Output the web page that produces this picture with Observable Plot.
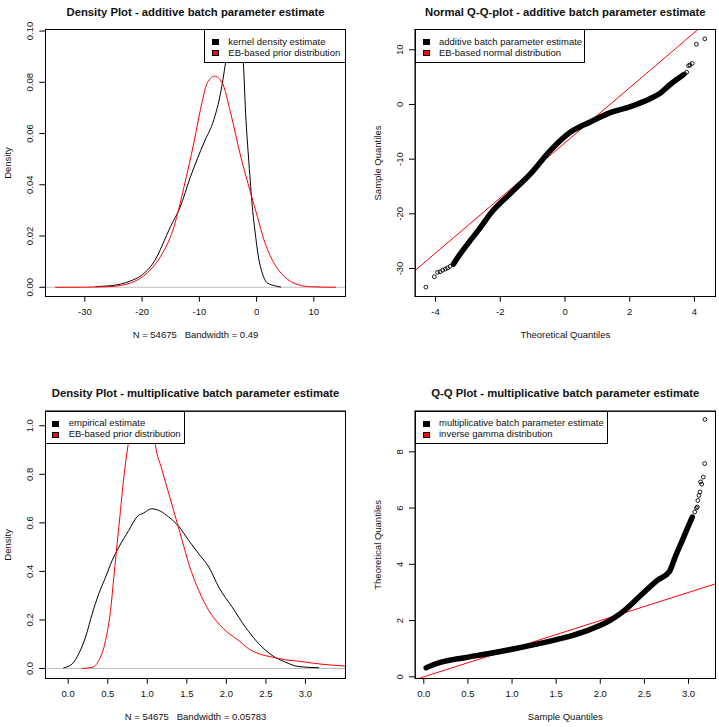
<!DOCTYPE html>
<html><head><meta charset="utf-8">
<script src="https://cdn.jsdelivr.net/npm/d3@7"></script>
<script src="https://cdn.jsdelivr.net/npm/@observablehq/plot@0.6"></script>
<style>
html,body{margin:0;padding:0;background:#fff;}
#wrap{position:relative;width:719px;height:727px;overflow:hidden;font-family:"Liberation Sans",Arial,sans-serif;background:#fff;}
.panel{position:absolute;}
.legend{position:absolute;box-sizing:border-box;border:1px solid #000;background:#fff;font-size:9.5px;color:#111;}
.legend .sw{position:absolute;width:7px;height:6px;border:1px solid #000;box-sizing:border-box;}
.legend .lab{position:absolute;white-space:nowrap;line-height:10px;}
</style></head>
<body><div id="wrap"></div>
<script>
// ---------- Panel 1: density of additive batch parameter ----------
const addKdeX = [-28.1, -25.5, -22.0, -20.2, -17.9, -15.0, -13.4, -11.5, -9.2, -7.45, -6.28, -5.41, -4.6, -3.8, -3.0, -2.32, -1.92, -1.34, -0.75, -0.17, 0.41, 0.99, 1.86, 3.6, 4.2];
const addKdeY = [0.0003, 0.0006, 0.0025, 0.0045, 0.0100, 0.0238, 0.0310, 0.0434, 0.0564, 0.0655, 0.0759, 0.0877, 0.100, 0.106, 0.100, 0.0877, 0.0681, 0.0486, 0.0316, 0.0199, 0.0108, 0.0056, 0.0017, 0.0004, 0.0001];
const addPriorX = [-35.1, -30.0, -25.5, -22.0, -19.1, -16.75, -14.4, -12.7, -10.9, -9.8, -8.6, -7.33, -6.0, -4.54, -2.79, -1.05, 0.12, 1.28, 3.02, 4.8, 7.1, 9.4, 13.8];
const addPriorY = [0, 0.00005, 0.0003, 0.0017, 0.0056, 0.0121, 0.0238, 0.0390, 0.0570, 0.0694, 0.0798, 0.0824, 0.0798, 0.0681, 0.0512, 0.0369, 0.0277, 0.0186, 0.0095, 0.0043, 0.0011, 0.0002, 0];

// ---------- Panel 2: normal Q-Q of additive batch parameter ----------
const addQqTheo   = [-3.45, -3.27, -2.93, -2.60, -2.31, -1.69, -1.07, -0.45, 0.16, 0.78, 1.40, 2.02, 2.64, 2.95, 3.26, 3.46, 3.65];
const addQqSample = [-29.2, -27.6, -24.9, -22.4, -20.0, -16.3, -12.7, -8.4, -5.1, -3.2, -1.5, -0.4, 1.1, 2.1, 3.7, 4.6, 5.4];
const addQqTailTheo   = [-4.30, -4.04, -3.94, -3.86, -3.78, -3.70, -3.63, -3.55, 3.70, 3.76, 3.82, 3.86, 3.93, 4.06, 4.32];
const addQqTailSample = [-33.4, -31.5, -30.7, -30.6, -30.3, -30.1, -29.9, -29.6, 5.6, 5.9, 7.1, 7.2, 7.5, 11.0, 12.0];
const addQqLineTheo   = [-4.63, 4.65];
const addQqLineSample = [-30.34, 16.44];

// ---------- Panel 3: density of multiplicative batch parameter ----------
const mulKdeX = [-0.056, 0.05, 0.134, 0.219, 0.303, 0.387, 0.472, 0.556, 0.640, 0.766, 0.872, 0.956, 1.053, 1.167, 1.272, 1.398, 1.525, 1.651, 1.778, 1.904, 2.073, 2.242, 2.410, 2.579, 2.747, 2.915, 3.168];
const mulKdeY = [0.003, 0.019, 0.061, 0.129, 0.225, 0.308, 0.376, 0.445, 0.500, 0.569, 0.626, 0.641, 0.658, 0.648, 0.624, 0.585, 0.527, 0.472, 0.418, 0.335, 0.253, 0.170, 0.102, 0.054, 0.026, 0.008, 0.003];
const mulPriorX = [0.177, 0.303, 0.387, 0.472, 0.535, 0.577, 0.619, 0.661, 0.703, 0.758, 0.85, 0.93, 1.02, 1.10, 1.188, 1.272, 1.357, 1.441, 1.525, 1.651, 1.778, 1.904, 2.030, 2.157, 2.283, 2.410, 2.579, 2.747, 2.915, 3.168, 3.506];
const mulPriorY = [0, 0.005, 0.033, 0.115, 0.239, 0.376, 0.514, 0.651, 0.788, 0.924, 1.15, 1.22, 1.15, 0.924, 0.816, 0.720, 0.624, 0.527, 0.431, 0.321, 0.239, 0.184, 0.145, 0.115, 0.081, 0.061, 0.047, 0.036, 0.030, 0.019, 0.010];

// ---------- Panel 4: inverse-gamma Q-Q of multiplicative batch parameter ----------
const mulQqSample = [0.027, 0.10, 0.197, 0.461, 0.726, 1.028, 1.331, 1.595, 1.859, 2.0, 2.125, 2.25, 2.457, 2.646, 2.785, 2.854, 2.93, 2.993, 3.043];
const mulQqTheo   = [0.32, 0.42, 0.52, 0.68, 0.82, 1.00, 1.20, 1.39, 1.65, 1.83, 2.03, 2.3, 2.89, 3.43, 3.75, 4.3, 4.85, 5.32, 5.68];
const mulQqTailSample = [3.07, 3.09, 3.10, 3.106, 3.118, 3.13, 3.137, 3.15, 3.168, 3.183, 3.186];
const mulQqTailTheo   = [5.86, 6.0, 6.04, 6.27, 6.45, 6.57, 6.93, 6.85, 7.10, 7.58, 9.15];
const mulQqLineSample = [-0.0975, 3.306];
const mulQqLineTheo   = [-0.0975, 3.306];

// ---------- Texts and ticks ----------
const titles = [
  "Density Plot - additive batch parameter estimate",
  "Normal Q-Q-plot - additive batch parameter estimate",
  "Density Plot - multiplicative batch parameter estimate",
  "Q-Q Plot - multiplicative batch parameter estimate"
];
const xLabels = ["N = 54675\u00a0\u00a0\u00a0Bandwidth = 0.49", "Theoretical Quantiles", "N = 54675\u00a0\u00a0\u00a0Bandwidth = 0.05783", "Sample Quantiles"];
const yLabels = ["Density", "Sample Quantiles", "Density", "Theoretical Quantiles"];
const legendLabels = [
  ["kernel density estimate", "EB-based prior distribution"],
  ["additive batch parameter estimate", "EB-based normal distribution"],
  ["empirical estimate", "EB-based prior distribution"],
  ["multiplicative batch parameter estimate", "inverse gamma distribution"]
];
const legendColors = ["#000000", "#ff0000"];
const p1XTicks = [-30, -20, -10, 0, 10];
const p1YTicks = [0, 0.02, 0.04, 0.06, 0.08, 0.10];
const p2XTicks = [-4, -2, 0, 2, 4];
const p2YTicks = [-30, -20, -10, 0, 10];
const p3XTicks = [0, 0.5, 1, 1.5, 2, 2.5, 3];
const p3YTicks = [0, 0.2, 0.4, 0.6, 0.8, 1.0];
const p4XTicks = [0, 0.5, 1, 1.5, 2, 2.5, 3];
const p4YTicks = [0, 2, 4, 6, 8];

const zip = (a, b) => a.map((v, i) => ({x: v, y: b[i]}));
const FONT = '"Liberation Sans", Arial, sans-serif';
const wrap = document.getElementById("wrap");
const TICK = 5.7;

function makePanel(c) {
  const fw = c.width - c.ml - c.mr, fh = c.height - c.mt - c.mb;
  const xPerPx = (c.xdom[1] - c.xdom[0]) / fw;
  const yPerPx = (c.ydom[1] - c.ydom[0]) / fh;
  const marks = [
    ...c.marks,
    Plot.frame({stroke: "#000"}),
    // box edges and outward ticks as rules, in data units
    Plot.ruleX([c.xdom[0], c.xdom[1]], {stroke: "#000", strokeWidth: 1}),
    Plot.ruleY([c.ydom[0], c.ydom[1]], {stroke: "#000", strokeWidth: 1}),
    Plot.ruleX(c.xticks, {x: d => d, y1: c.ydom[0], y2: c.ydom[0] - TICK * yPerPx, stroke: "#000", strokeWidth: 1}),
    Plot.ruleY(c.yticks, {y: d => d, x1: c.xdom[0], x2: c.xdom[0] - TICK * xPerPx, stroke: "#000", strokeWidth: 1}),
    Plot.text(c.xticks, {x: d => d, text: c.xfmt, frameAnchor: "bottom", dy: c.xtickDy, fontSize: 9.5}),
    Plot.text(c.yticks, {y: d => d, text: c.yfmt, frameAnchor: "left", dx: -15.7, rotate: -90, fontSize: 9.5, textAnchor: "middle"}),
    Plot.text([c.title], {text: d => d, frameAnchor: "top", dy: c.titleDy, fontWeight: "bold", fontSize: 11.3}),
    Plot.text([c.xlabel], {text: d => d, frameAnchor: "bottom", dy: c.xlabDy, fontSize: 9.5}),
    Plot.text([c.ylabel], {text: d => d, frameAnchor: "left", dx: -37.6, rotate: -90, fontSize: 9.5, textAnchor: "middle"})
  ];
  const svg = Plot.plot({
    width: c.width, height: c.height,
    marginLeft: c.ml, marginRight: c.mr, marginTop: c.mt, marginBottom: c.mb,
    x: {domain: c.xdom, axis: null}, y: {domain: c.ydom, axis: null},
    style: {fontFamily: FONT, fontSize: "9.5px", color: "#111", background: "#fff", overflow: "visible"},
    marks
  });
  const div = document.createElement("div");
  div.className = "panel";
  div.style.left = c.left + "px";
  div.style.top = c.top + "px";
  div.appendChild(svg);
  wrap.appendChild(div);

  const L = c.legend;
  const box = document.createElement("div");
  box.className = "legend";
  box.style.left = (c.left + L.x) + "px";
  box.style.top = (c.top + L.y) + "px";
  box.style.width = L.w + "px";
  box.style.height = L.h + "px";
  c.legendLabels.forEach((lab, i) => {
    const cy = L.rows[i];
    const sw = document.createElement("div");
    sw.className = "sw";
    sw.style.left = L.swX + "px";
    sw.style.top = (cy - 3) + "px";
    sw.style.background = legendColors[i];
    box.appendChild(sw);
    const t = document.createElement("div");
    t.className = "lab";
    t.style.left = L.textX + "px";
    t.style.top = (cy - 5.5) + "px";
    t.textContent = lab;
    box.appendChild(t);
  });
  wrap.appendChild(box);
}

const dens = (x, y, color) => Plot.line(zip(x, y), {x: "x", y: "y", stroke: color, strokeWidth: 1, curve: "monotone-x", clip: true});

makePanel({
  left: 0, top: 0, width: 359, height: 363, ml: 45, mr: 14, mt: 29, mb: 67,
  xdom: [-36.87, 15.53], ydom: [-0.0036, 0.1006],
  xticks: p1XTicks, yticks: p1YTicks, xfmt: d => String(d), yfmt: d => d.toFixed(2),
  title: titles[0], xlabel: xLabels[0], ylabel: yLabels[0],
  titleDy: -21.3, xtickDy: 18.8, xlabDy: 41.7,
  marks: [Plot.ruleY([0], {stroke: "#bebebe", strokeWidth: 1}), dens(addKdeX, addKdeY, "#000"), dens(addPriorX, addPriorY, "#ff0000")],
  legendLabels: legendLabels[0],
  legend: {x: 204.3, y: 29, w: 141.7, h: 33.5, swX: 6.3, textX: 23, rows: [12.3, 23]}
});

makePanel({
  left: 359, top: 0, width: 360, height: 363, ml: 55.7, mr: 4, mt: 29, mb: 67,
  xdom: [-4.63, 4.65], ydom: [-35.12, 13.71],
  xticks: p2XTicks, yticks: p2YTicks, xfmt: d => String(d), yfmt: d => String(d),
  title: titles[1], xlabel: xLabels[1], ylabel: yLabels[1],
  titleDy: -21.3, xtickDy: 18.5, xlabDy: 41.7,
  marks: [
    Plot.line(zip(addQqLineTheo, addQqLineSample), {x: "x", y: "y", stroke: "#ff0000", strokeWidth: 1, clip: true}),
    Plot.line(zip(addQqTheo, addQqSample), {x: "x", y: "y", stroke: "#000", strokeWidth: 5.5, strokeLinecap: "round", strokeLinejoin: "round", curve: "monotone-x"}),
    Plot.dot(zip(addQqTailTheo, addQqTailSample), {x: "x", y: "y", r: 1.9, stroke: "#000", strokeWidth: 0.9, fill: "none"})
  ],
  legendLabels: legendLabels[1],
  legend: {x: 55.7, y: 29, w: 170.7, h: 33.5, swX: 7.3, textX: 23.3, rows: [12.3, 23]}
});

makePanel({
  left: 0, top: 363, width: 359, height: 364, ml: 45, mr: 14, mt: 47.7, mb: 49,
  xdom: [-0.287, 3.506], ydom: [-0.0412, 1.060],
  xticks: p3XTicks, yticks: p3YTicks, xfmt: d => d.toFixed(1), yfmt: d => d.toFixed(1),
  title: titles[2], xlabel: xLabels[2], ylabel: yLabels[2],
  titleDy: -22.7, xtickDy: 18.3, xlabDy: 41,
  marks: [Plot.ruleY([0], {stroke: "#bebebe", strokeWidth: 1}), dens(mulKdeX, mulKdeY, "#000"), dens(mulPriorX, mulPriorY, "#ff0000")],
  legendLabels: legendLabels[2],
  legend: {x: 45, y: 47.7, w: 139.8, h: 33.5, swX: 6.3, textX: 22.7, rows: [12.3, 23]}
});

makePanel({
  left: 359, top: 363, width: 360, height: 364, ml: 55.7, mr: 4, mt: 47.7, mb: 49,
  xdom: [-0.0975, 3.306], ydom: [-0.060, 9.444],
  xticks: p4XTicks, yticks: p4YTicks, xfmt: d => d.toFixed(1), yfmt: d => String(d),
  title: titles[3], xlabel: xLabels[3], ylabel: yLabels[3],
  titleDy: -22.7, xtickDy: 18.3, xlabDy: 41,
  marks: [
    Plot.line(zip(mulQqLineSample, mulQqLineTheo), {x: "x", y: "y", stroke: "#ff0000", strokeWidth: 1, clip: true}),
    Plot.line(zip(mulQqSample, mulQqTheo), {x: "x", y: "y", stroke: "#000", strokeWidth: 5.5, strokeLinecap: "round", strokeLinejoin: "round", curve: "monotone-x"}),
    Plot.dot(zip(mulQqTailSample, mulQqTailTheo), {x: "x", y: "y", r: 1.9, stroke: "#000", strokeWidth: 0.9, fill: "none"})
  ],
  legendLabels: legendLabels[3],
  legend: {x: 55.7, y: 47.7, w: 193.1, h: 33.5, swX: 7.3, textX: 23.3, rows: [12.3, 23]}
});
</script>
</body></html>
